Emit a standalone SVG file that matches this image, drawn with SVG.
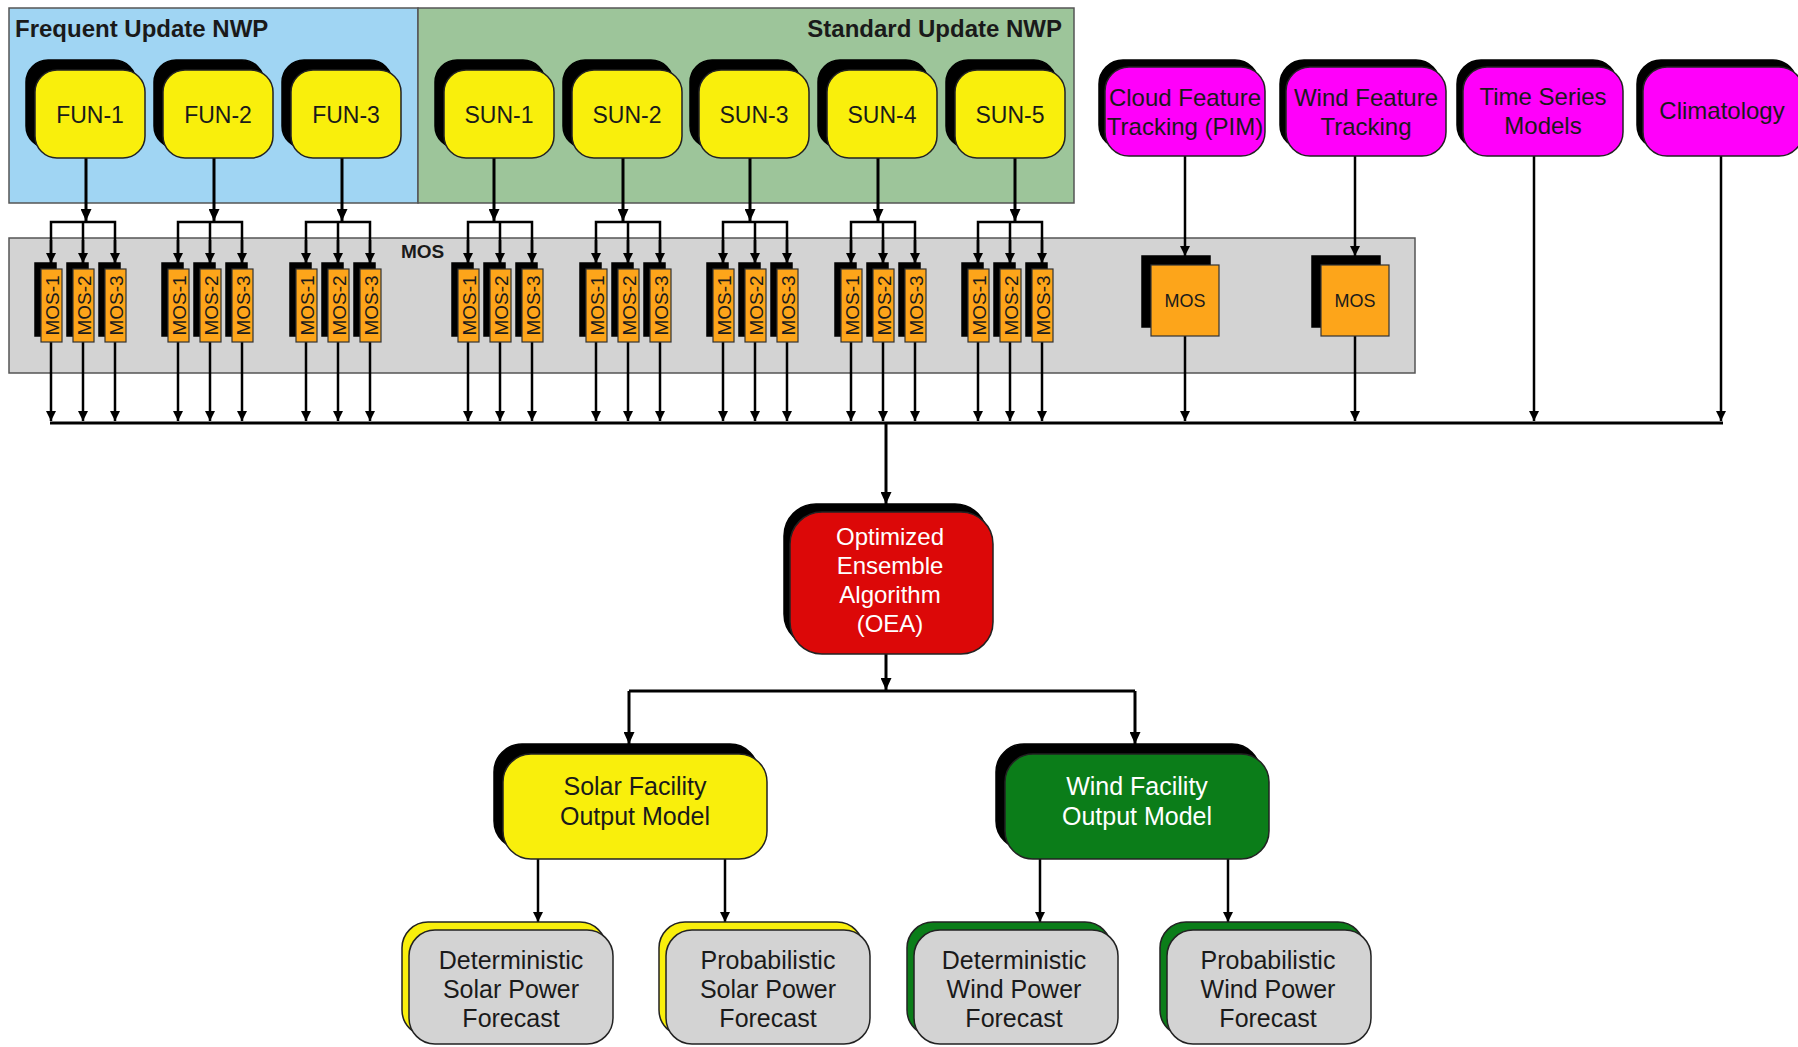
<svg xmlns="http://www.w3.org/2000/svg" width="1798" height="1047" viewBox="0 0 1798 1047">
<defs>
<marker id="ah" markerUnits="userSpaceOnUse" markerWidth="12" markerHeight="11" viewBox="0 0 12 11" refX="12" refY="5.5" orient="auto"><path d="M0,0 L12,5.5 L0,11 z" fill="#000"/></marker>
<marker id="ahs" markerUnits="userSpaceOnUse" markerWidth="10" markerHeight="10" viewBox="0 0 10 10" refX="10" refY="5" orient="auto"><path d="M0,0 L10,5 L0,10 z" fill="#000"/></marker>
</defs>
<style>
text { font-family: "Liberation Sans", Arial, sans-serif; fill:#1a1a1a; text-anchor:middle; }
.title { font-weight:bold; font-size:24px; text-anchor:start; }
.tr { text-anchor:end; }
.mlab { font-weight:bold; font-size:19px; text-anchor:start; }
.t23 { font-size:23px; }
.t24 { font-size:24px; }
.t25 { font-size:25px; }
.ms { font-size:19px; }
.mb { font-size:18px; }
.wt { fill:#ffffff; }
.panel { stroke:#555; stroke-width:1.5; }
.sh { fill:#000; stroke:#000; stroke-width:1.5; }
.yel { fill:#f9ef0c; stroke:#222; stroke-width:1.5; }
.mag { fill:#ff00fa; stroke:#222; stroke-width:1.5; }
.org { fill:#fda51a; stroke:#333; stroke-width:1.2; }
.red { fill:#dc0808; stroke:#222; stroke-width:1.5; }
.grn { fill:#0b7d19; stroke:#222; stroke-width:1.5; }
.gry { fill:#d3d3d3; stroke:#222; stroke-width:1.5; }
.ln { stroke:#000; stroke-width:3; fill:none; }
.lns { stroke:#000; stroke-width:2.5; fill:none; }
</style>
<rect x="0" y="0" width="1798" height="1047" fill="#ffffff"/>

<!-- panels -->
<g id="panel-frequent">
<rect class="panel" x="9" y="8" width="409" height="195" fill="#a0d5f3"/>
<text class="title" x="15" y="37">Frequent Update NWP</text>
</g>
<g id="panel-standard">
<rect class="panel" x="418" y="8" width="656" height="195" fill="#9dc59a"/>
<text class="title tr" x="1062" y="37">Standard Update NWP</text>
</g>
<g id="panel-mos">
<rect class="panel" x="9" y="238" width="1406" height="135" fill="#d3d3d3"/>
<text class="mlab" x="401" y="258">MOS</text>
</g>

<!-- connectors -->
<g id="connectors">
<!-- NWP to MOS bars -->
<line class="ln" x1="86" y1="158" x2="86" y2="221" marker-end="url(#ah)"/>
<line class="ln" x1="214" y1="158" x2="214" y2="221" marker-end="url(#ah)"/>
<line class="ln" x1="342" y1="158" x2="342" y2="221" marker-end="url(#ah)"/>
<line class="ln" x1="494" y1="158" x2="494" y2="221" marker-end="url(#ah)"/>
<line class="ln" x1="623" y1="158" x2="623" y2="221" marker-end="url(#ah)"/>
<line class="ln" x1="750" y1="158" x2="750" y2="221" marker-end="url(#ah)"/>
<line class="ln" x1="878" y1="158" x2="878" y2="221" marker-end="url(#ah)"/>
<line class="ln" x1="1015" y1="158" x2="1015" y2="221" marker-end="url(#ah)"/>
<path class="lns" d="M51,263 V222 H115 V263 M83,222 V263"/>
<path class="lns" d="M178,263 V222 H242 V263 M210,222 V263"/>
<path class="lns" d="M306,263 V222 H370 V263 M338,222 V263"/>
<path class="lns" d="M468,263 V222 H532 V263 M500,222 V263"/>
<path class="lns" d="M596,263 V222 H660 V263 M628,222 V263"/>
<path class="lns" d="M723,263 V222 H787 V263 M755,222 V263"/>
<path class="lns" d="M851,263 V222 H915 V263 M883,222 V263"/>
<path class="lns" d="M978,263 V222 H1042 V263 M1010,222 V263"/>
<!-- arrowheads into MOS -->
<g id="mos-in">
<line class="lns" x1="51" y1="240" x2="51" y2="263" marker-end="url(#ahs)"/>
<line class="lns" x1="83" y1="240" x2="83" y2="263" marker-end="url(#ahs)"/>
<line class="lns" x1="115" y1="240" x2="115" y2="263" marker-end="url(#ahs)"/>
<line class="lns" x1="178" y1="240" x2="178" y2="263" marker-end="url(#ahs)"/>
<line class="lns" x1="210" y1="240" x2="210" y2="263" marker-end="url(#ahs)"/>
<line class="lns" x1="242" y1="240" x2="242" y2="263" marker-end="url(#ahs)"/>
<line class="lns" x1="306" y1="240" x2="306" y2="263" marker-end="url(#ahs)"/>
<line class="lns" x1="338" y1="240" x2="338" y2="263" marker-end="url(#ahs)"/>
<line class="lns" x1="370" y1="240" x2="370" y2="263" marker-end="url(#ahs)"/>
<line class="lns" x1="468" y1="240" x2="468" y2="263" marker-end="url(#ahs)"/>
<line class="lns" x1="500" y1="240" x2="500" y2="263" marker-end="url(#ahs)"/>
<line class="lns" x1="532" y1="240" x2="532" y2="263" marker-end="url(#ahs)"/>
<line class="lns" x1="596" y1="240" x2="596" y2="263" marker-end="url(#ahs)"/>
<line class="lns" x1="628" y1="240" x2="628" y2="263" marker-end="url(#ahs)"/>
<line class="lns" x1="660" y1="240" x2="660" y2="263" marker-end="url(#ahs)"/>
<line class="lns" x1="723" y1="240" x2="723" y2="263" marker-end="url(#ahs)"/>
<line class="lns" x1="755" y1="240" x2="755" y2="263" marker-end="url(#ahs)"/>
<line class="lns" x1="787" y1="240" x2="787" y2="263" marker-end="url(#ahs)"/>
<line class="lns" x1="851" y1="240" x2="851" y2="263" marker-end="url(#ahs)"/>
<line class="lns" x1="883" y1="240" x2="883" y2="263" marker-end="url(#ahs)"/>
<line class="lns" x1="915" y1="240" x2="915" y2="263" marker-end="url(#ahs)"/>
<line class="lns" x1="978" y1="240" x2="978" y2="263" marker-end="url(#ahs)"/>
<line class="lns" x1="1010" y1="240" x2="1010" y2="263" marker-end="url(#ahs)"/>
<line class="lns" x1="1042" y1="240" x2="1042" y2="263" marker-end="url(#ahs)"/>
</g>
<!-- MOS out to bus -->
<g id="mos-out">
<line class="lns" x1="51" y1="342" x2="51" y2="421" marker-end="url(#ahs)"/>
<line class="lns" x1="83" y1="342" x2="83" y2="421" marker-end="url(#ahs)"/>
<line class="lns" x1="115" y1="342" x2="115" y2="421" marker-end="url(#ahs)"/>
<line class="lns" x1="178" y1="342" x2="178" y2="421" marker-end="url(#ahs)"/>
<line class="lns" x1="210" y1="342" x2="210" y2="421" marker-end="url(#ahs)"/>
<line class="lns" x1="242" y1="342" x2="242" y2="421" marker-end="url(#ahs)"/>
<line class="lns" x1="306" y1="342" x2="306" y2="421" marker-end="url(#ahs)"/>
<line class="lns" x1="338" y1="342" x2="338" y2="421" marker-end="url(#ahs)"/>
<line class="lns" x1="370" y1="342" x2="370" y2="421" marker-end="url(#ahs)"/>
<line class="lns" x1="468" y1="342" x2="468" y2="421" marker-end="url(#ahs)"/>
<line class="lns" x1="500" y1="342" x2="500" y2="421" marker-end="url(#ahs)"/>
<line class="lns" x1="532" y1="342" x2="532" y2="421" marker-end="url(#ahs)"/>
<line class="lns" x1="596" y1="342" x2="596" y2="421" marker-end="url(#ahs)"/>
<line class="lns" x1="628" y1="342" x2="628" y2="421" marker-end="url(#ahs)"/>
<line class="lns" x1="660" y1="342" x2="660" y2="421" marker-end="url(#ahs)"/>
<line class="lns" x1="723" y1="342" x2="723" y2="421" marker-end="url(#ahs)"/>
<line class="lns" x1="755" y1="342" x2="755" y2="421" marker-end="url(#ahs)"/>
<line class="lns" x1="787" y1="342" x2="787" y2="421" marker-end="url(#ahs)"/>
<line class="lns" x1="851" y1="342" x2="851" y2="421" marker-end="url(#ahs)"/>
<line class="lns" x1="883" y1="342" x2="883" y2="421" marker-end="url(#ahs)"/>
<line class="lns" x1="915" y1="342" x2="915" y2="421" marker-end="url(#ahs)"/>
<line class="lns" x1="978" y1="342" x2="978" y2="421" marker-end="url(#ahs)"/>
<line class="lns" x1="1010" y1="342" x2="1010" y2="421" marker-end="url(#ahs)"/>
<line class="lns" x1="1042" y1="342" x2="1042" y2="421" marker-end="url(#ahs)"/>
</g>
<!-- right side sources -->
<line class="lns" x1="1185" y1="156" x2="1185" y2="256" marker-end="url(#ahs)"/>
<line class="lns" x1="1355" y1="156" x2="1355" y2="256" marker-end="url(#ahs)"/>
<line class="lns" x1="1185" y1="336" x2="1185" y2="421" marker-end="url(#ahs)"/>
<line class="lns" x1="1355" y1="336" x2="1355" y2="421" marker-end="url(#ahs)"/>
<line class="lns" x1="1534" y1="156" x2="1534" y2="421" marker-end="url(#ahs)"/>
<line class="lns" x1="1721" y1="156" x2="1721" y2="421" marker-end="url(#ahs)"/>
<!-- bus -->
<line class="ln" x1="50" y1="423" x2="1723" y2="423"/>
<line class="ln" x1="886" y1="423" x2="886" y2="504" marker-end="url(#ah)"/>
<!-- OEA out -->
<line class="ln" x1="886" y1="654" x2="886" y2="690" marker-end="url(#ah)"/>
<path class="ln" d="M629,691 H1135"/>
<line class="ln" x1="629" y1="691" x2="629" y2="744" marker-end="url(#ah)"/>
<line class="ln" x1="1135" y1="691" x2="1135" y2="744" marker-end="url(#ah)"/>
<!-- facility to forecasts -->
<line class="lns" x1="538" y1="859" x2="538" y2="922" marker-end="url(#ahs)"/>
<line class="lns" x1="725" y1="859" x2="725" y2="922" marker-end="url(#ahs)"/>
<line class="lns" x1="1040" y1="859" x2="1040" y2="922" marker-end="url(#ahs)"/>
<line class="lns" x1="1228" y1="859" x2="1228" y2="922" marker-end="url(#ahs)"/>
</g>

<!-- NWP nodes -->
<g id="fun-1"><rect class="sh" x="26" y="60" width="110" height="88" rx="22"/><rect class="yel" x="35" y="70" width="110" height="88" rx="22"/><text class="t23" x="90" y="123">FUN-1</text></g>
<g id="fun-2"><rect class="sh" x="154" y="60" width="110" height="88" rx="22"/><rect class="yel" x="163" y="70" width="110" height="88" rx="22"/><text class="t23" x="218" y="123">FUN-2</text></g>
<g id="fun-3"><rect class="sh" x="282" y="60" width="110" height="88" rx="22"/><rect class="yel" x="291" y="70" width="110" height="88" rx="22"/><text class="t23" x="346" y="123">FUN-3</text></g>
<g id="sun-1"><rect class="sh" x="435" y="60" width="110" height="88" rx="22"/><rect class="yel" x="444" y="70" width="110" height="88" rx="22"/><text class="t23" x="499" y="123">SUN-1</text></g>
<g id="sun-2"><rect class="sh" x="563" y="60" width="110" height="88" rx="22"/><rect class="yel" x="572" y="70" width="110" height="88" rx="22"/><text class="t23" x="627" y="123">SUN-2</text></g>
<g id="sun-3"><rect class="sh" x="690" y="60" width="110" height="88" rx="22"/><rect class="yel" x="699" y="70" width="110" height="88" rx="22"/><text class="t23" x="754" y="123">SUN-3</text></g>
<g id="sun-4"><rect class="sh" x="818" y="60" width="110" height="88" rx="22"/><rect class="yel" x="827" y="70" width="110" height="88" rx="22"/><text class="t23" x="882" y="123">SUN-4</text></g>
<g id="sun-5"><rect class="sh" x="946" y="60" width="110" height="88" rx="22"/><rect class="yel" x="955" y="70" width="110" height="88" rx="22"/><text class="t23" x="1010" y="123">SUN-5</text></g>

<!-- other sources -->
<g id="cloud-feature"><rect class="sh" x="1099" y="60" width="160" height="89" rx="24"/><rect class="mag" x="1105" y="67" width="160" height="89" rx="24"/><text class="t24" x="1185" y="106">Cloud Feature</text><text class="t24" x="1185" y="135">Tracking (PIM)</text></g>
<g id="wind-feature"><rect class="sh" x="1280" y="60" width="160" height="89" rx="24"/><rect class="mag" x="1286" y="67" width="160" height="89" rx="24"/><text class="t24" x="1366" y="106">Wind Feature</text><text class="t24" x="1366" y="135">Tracking</text></g>
<g id="time-series"><rect class="sh" x="1457" y="60" width="160" height="89" rx="24"/><rect class="mag" x="1463" y="67" width="160" height="89" rx="24"/><text class="t24" x="1543" y="105">Time Series</text><text class="t24" x="1543" y="134">Models</text></g>
<g id="climatology"><rect class="sh" x="1637" y="60" width="160" height="89" rx="24"/><rect class="mag" x="1643" y="67" width="160" height="89" rx="24"/><text class="t24" x="1722" y="119">Climatology</text></g>

<!-- MOS small boxes -->
<g id="mos-boxes">
<g id="fun-1-mos"><rect class="sh" x="35" y="263" width="21" height="73"/><rect class="org" x="41" y="269" width="21" height="73"/><text class="ms" transform="translate(51.5,305.5) rotate(-90)" y="7">MOS-1</text><rect class="sh" x="67" y="263" width="21" height="73"/><rect class="org" x="73" y="269" width="21" height="73"/><text class="ms" transform="translate(83.5,305.5) rotate(-90)" y="7">MOS-2</text><rect class="sh" x="99" y="263" width="21" height="73"/><rect class="org" x="105" y="269" width="21" height="73"/><text class="ms" transform="translate(115.5,305.5) rotate(-90)" y="7">MOS-3</text></g>
<g id="fun-2-mos"><rect class="sh" x="162" y="263" width="21" height="73"/><rect class="org" x="168" y="269" width="21" height="73"/><text class="ms" transform="translate(178.5,305.5) rotate(-90)" y="7">MOS-1</text><rect class="sh" x="194" y="263" width="21" height="73"/><rect class="org" x="200" y="269" width="21" height="73"/><text class="ms" transform="translate(210.5,305.5) rotate(-90)" y="7">MOS-2</text><rect class="sh" x="226" y="263" width="21" height="73"/><rect class="org" x="232" y="269" width="21" height="73"/><text class="ms" transform="translate(242.5,305.5) rotate(-90)" y="7">MOS-3</text></g>
<g id="fun-3-mos"><rect class="sh" x="290" y="263" width="21" height="73"/><rect class="org" x="296" y="269" width="21" height="73"/><text class="ms" transform="translate(306.5,305.5) rotate(-90)" y="7">MOS-1</text><rect class="sh" x="322" y="263" width="21" height="73"/><rect class="org" x="328" y="269" width="21" height="73"/><text class="ms" transform="translate(338.5,305.5) rotate(-90)" y="7">MOS-2</text><rect class="sh" x="354" y="263" width="21" height="73"/><rect class="org" x="360" y="269" width="21" height="73"/><text class="ms" transform="translate(370.5,305.5) rotate(-90)" y="7">MOS-3</text></g>
<g id="sun-1-mos"><rect class="sh" x="452" y="263" width="21" height="73"/><rect class="org" x="458" y="269" width="21" height="73"/><text class="ms" transform="translate(468.5,305.5) rotate(-90)" y="7">MOS-1</text><rect class="sh" x="484" y="263" width="21" height="73"/><rect class="org" x="490" y="269" width="21" height="73"/><text class="ms" transform="translate(500.5,305.5) rotate(-90)" y="7">MOS-2</text><rect class="sh" x="516" y="263" width="21" height="73"/><rect class="org" x="522" y="269" width="21" height="73"/><text class="ms" transform="translate(532.5,305.5) rotate(-90)" y="7">MOS-3</text></g>
<g id="sun-2-mos"><rect class="sh" x="580" y="263" width="21" height="73"/><rect class="org" x="586" y="269" width="21" height="73"/><text class="ms" transform="translate(596.5,305.5) rotate(-90)" y="7">MOS-1</text><rect class="sh" x="612" y="263" width="21" height="73"/><rect class="org" x="618" y="269" width="21" height="73"/><text class="ms" transform="translate(628.5,305.5) rotate(-90)" y="7">MOS-2</text><rect class="sh" x="644" y="263" width="21" height="73"/><rect class="org" x="650" y="269" width="21" height="73"/><text class="ms" transform="translate(660.5,305.5) rotate(-90)" y="7">MOS-3</text></g>
<g id="sun-3-mos"><rect class="sh" x="707" y="263" width="21" height="73"/><rect class="org" x="713" y="269" width="21" height="73"/><text class="ms" transform="translate(723.5,305.5) rotate(-90)" y="7">MOS-1</text><rect class="sh" x="739" y="263" width="21" height="73"/><rect class="org" x="745" y="269" width="21" height="73"/><text class="ms" transform="translate(755.5,305.5) rotate(-90)" y="7">MOS-2</text><rect class="sh" x="771" y="263" width="21" height="73"/><rect class="org" x="777" y="269" width="21" height="73"/><text class="ms" transform="translate(787.5,305.5) rotate(-90)" y="7">MOS-3</text></g>
<g id="sun-4-mos"><rect class="sh" x="835" y="263" width="21" height="73"/><rect class="org" x="841" y="269" width="21" height="73"/><text class="ms" transform="translate(851.5,305.5) rotate(-90)" y="7">MOS-1</text><rect class="sh" x="867" y="263" width="21" height="73"/><rect class="org" x="873" y="269" width="21" height="73"/><text class="ms" transform="translate(883.5,305.5) rotate(-90)" y="7">MOS-2</text><rect class="sh" x="899" y="263" width="21" height="73"/><rect class="org" x="905" y="269" width="21" height="73"/><text class="ms" transform="translate(915.5,305.5) rotate(-90)" y="7">MOS-3</text></g>
<g id="sun-5-mos"><rect class="sh" x="962" y="263" width="21" height="73"/><rect class="org" x="968" y="269" width="21" height="73"/><text class="ms" transform="translate(978.5,305.5) rotate(-90)" y="7">MOS-1</text><rect class="sh" x="994" y="263" width="21" height="73"/><rect class="org" x="1000" y="269" width="21" height="73"/><text class="ms" transform="translate(1010.5,305.5) rotate(-90)" y="7">MOS-2</text><rect class="sh" x="1026" y="263" width="21" height="73"/><rect class="org" x="1032" y="269" width="21" height="73"/><text class="ms" transform="translate(1042.5,305.5) rotate(-90)" y="7">MOS-3</text></g>
</g>
<g id="cloud-mos"><rect class="sh" x="1142" y="256" width="68" height="71"/><rect class="org" x="1151" y="265" width="68" height="71"/><text class="mb" x="1185" y="307">MOS</text></g>
<g id="wind-mos"><rect class="sh" x="1312" y="256" width="68" height="71"/><rect class="org" x="1321" y="265" width="68" height="71"/><text class="mb" x="1355" y="307">MOS</text></g>

<!-- OEA -->
<g id="oea"><rect class="sh" x="784" y="504" width="203" height="142" rx="32"/><rect class="red" x="790" y="512" width="203" height="142" rx="32"/>
<text class="t24 wt" x="890" y="545">Optimized</text><text class="t24 wt" x="890" y="574">Ensemble</text><text class="t24 wt" x="890" y="603">Algorithm</text><text class="t24 wt" x="890" y="632">(OEA)</text></g>

<!-- facility models -->
<g id="solar-facility"><rect class="sh" x="494" y="744" width="264" height="105" rx="28"/><rect class="yel" x="503" y="754" width="264" height="105" rx="28"/><text class="t25" x="635" y="795">Solar Facility</text><text class="t25" x="635" y="825">Output Model</text></g>
<g id="wind-facility"><rect class="sh" x="996" y="744" width="264" height="105" rx="28"/><rect class="grn" x="1005" y="754" width="264" height="105" rx="28"/><text class="t25 wt" x="1137" y="795">Wind Facility</text><text class="t25 wt" x="1137" y="825">Output Model</text></g>

<!-- forecasts -->
<g id="det-solar"><rect class="yel" x="402" y="922" width="204" height="114" rx="26"/><rect class="gry" x="409" y="930" width="204" height="114" rx="26"/><text class="t25" x="511" y="969">Deterministic</text><text class="t25" x="511" y="998">Solar Power</text><text class="t25" x="511" y="1027">Forecast</text></g>
<g id="prob-solar"><rect class="yel" x="659" y="922" width="204" height="114" rx="26"/><rect class="gry" x="666" y="930" width="204" height="114" rx="26"/><text class="t25" x="768" y="969">Probabilistic</text><text class="t25" x="768" y="998">Solar Power</text><text class="t25" x="768" y="1027">Forecast</text></g>
<g id="det-wind"><rect class="grn" x="907" y="922" width="204" height="114" rx="26"/><rect class="gry" x="914" y="930" width="204" height="114" rx="26"/><text class="t25" x="1014" y="969">Deterministic</text><text class="t25" x="1014" y="998">Wind Power</text><text class="t25" x="1014" y="1027">Forecast</text></g>
<g id="prob-wind"><rect class="grn" x="1160" y="922" width="204" height="114" rx="26"/><rect class="gry" x="1167" y="930" width="204" height="114" rx="26"/><text class="t25" x="1268" y="969">Probabilistic</text><text class="t25" x="1268" y="998">Wind Power</text><text class="t25" x="1268" y="1027">Forecast</text></g>
</svg>
